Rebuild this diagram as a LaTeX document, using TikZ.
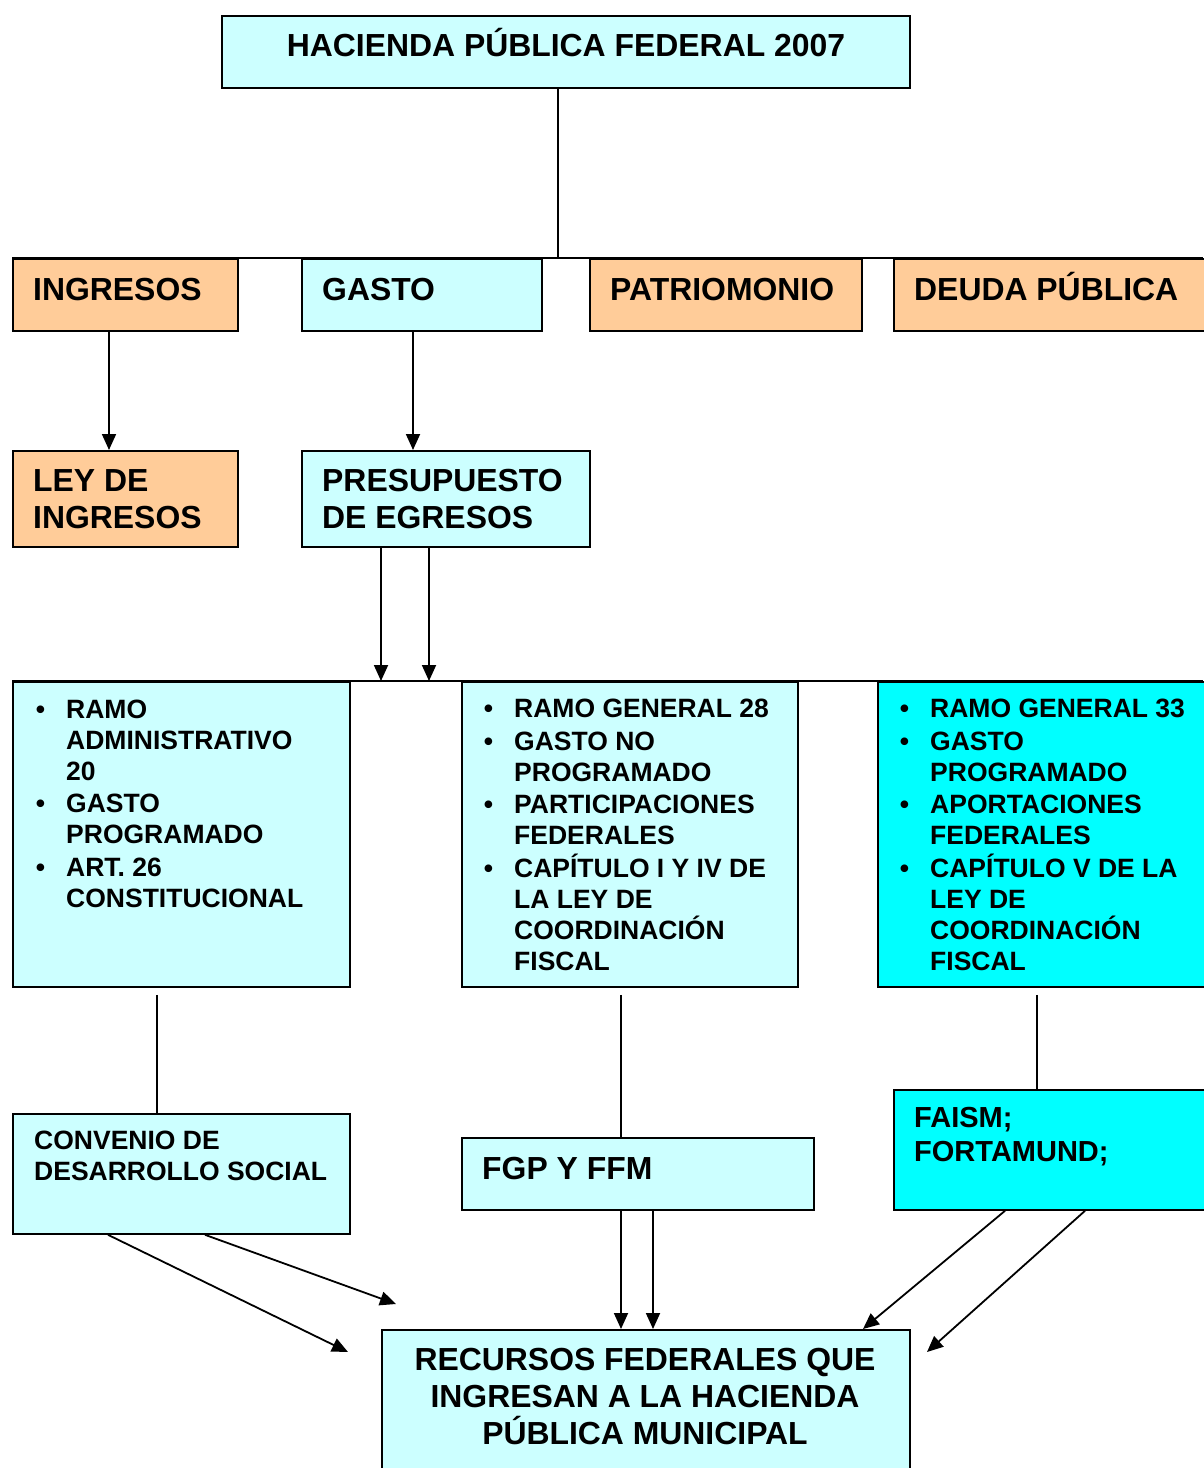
\documentclass[tikz,border=0pt]{standalone}
\usepackage{fontspec}
\setmainfont{Liberation Sans}
\usepackage{tikz}
\usetikzlibrary{arrows.meta}
\definecolor{peach}{HTML}{FFCC99}
\definecolor{lightcyan}{HTML}{CCFFFF}
\definecolor{aqua}{HTML}{00FFFF}
\tikzstyle{box} = [rectangle, draw=black, line width=1.8pt, anchor=north west, inner sep=0pt, fill=lightcyan]
\tikzstyle{peachbox} = [box, fill=peach]
\tikzstyle{aquabox} = [box, fill=aqua]
\tikzstyle{bigtxt} = [font=\fontsize{31.9}{37}\selectfont\bfseries, inner sep=0pt, align=left, anchor=base west]
\tikzstyle{smalltxt} = [font=\fontsize{26.5}{31}\selectfont\bfseries, inner sep=0pt, align=left, anchor=base west]
\tikzstyle{midtxt} = [font=\fontsize{29}{34}\selectfont\bfseries, inner sep=0pt, align=left, anchor=base west]
\tikzstyle{link} = [line width=1.8pt]
\tikzstyle{arrow} = [line width=1.8pt,->,>={Triangle[length=16pt,width=14pt]}]
\newcommand{\bul}{\llap{\textbullet\hspace{21pt}}}

\begin{document}
\begin{tikzpicture}[x=1pt,y=-1pt]
\useasboundingbox (0,0) rectangle (1203,1468);
\coordinate (topbarL) at (12,258);
\coordinate (topbarR) at (1203,258);
\coordinate (midbarL) at (12,681);
\coordinate (midbarR) at (1203,681);
\coordinate (convA) at (348,1352);
\coordinate (convB) at (396,1304);
\coordinate (faismB) at (927,1352);

\draw [link] (topbarL) -- (topbarR);
\draw [link] (midbarL) -- (midbarR);

\node (hacienda) [box, minimum width=688pt, minimum height=72pt] at (221,15) {};
\node (ingresos) [peachbox, minimum width=225pt, minimum height=72pt] at (12,258) {};
\node (gasto) [box, minimum width=240pt, minimum height=72pt] at (301,258) {};
\node (patrimonio) [peachbox, minimum width=272pt, minimum height=72pt] at (589,258) {};
\node (deuda) [peachbox, minimum width=315pt, minimum height=72pt] at (893,258) {};
\node (leying) [peachbox, minimum width=225pt, minimum height=96pt] at (12,450) {};
\node (presup) [box, minimum width=288pt, minimum height=96pt] at (301,450) {};
\node (ramo20) [box, minimum width=337pt, minimum height=305pt] at (12,681) {};
\node (ramo28) [box, minimum width=336pt, minimum height=305pt] at (461,681) {};
\node (ramo33) [aquabox, minimum width=330pt, minimum height=305pt] at (877,681) {};
\node (convenio) [box, minimum width=337pt, minimum height=120pt] at (12,1113) {};
\node (fgp) [box, minimum width=352pt, minimum height=72pt] at (461,1137) {};
\node (faism) [aquabox, minimum width=315pt, minimum height=120pt] at (893,1089) {};
\node (recursos) [box, minimum width=528pt, minimum height=145pt] at (381,1329) {};

% texts: multi-line nodes sit on the baseline of their last line
\node (haciendatxt) [bigtxt, anchor=base] at (566,56) {HACIENDA PÚBLICA FEDERAL 2007};
\node (ingresostxt) [bigtxt] at (33,300) {INGRESOS};
\node (gastotxt) [bigtxt] at (322,300) {GASTO};
\node (patrimoniotxt) [bigtxt] at (610,300) {PATRIOMONIO};
\node (deudatxt) [bigtxt] at (914,300) {DEUDA PÚBLICA};
\node (leyingtxt) [bigtxt] at (33,528) {LEY DE\\INGRESOS};
\node (presuptxt) [bigtxt] at (322,528) {PRESUPUESTO\\DE EGRESOS};
\node (ramo20txt) [smalltxt] at (66,907) {\bul RAMO\\ADMINISTRATIVO\\20\\[1.5pt]
  \bul GASTO\\PROGRAMADO\\[1.5pt]
  \bul ART. 26\\CONSTITUCIONAL};
\node (ramo28txt) [smalltxt] at (514,970) {\bul RAMO GENERAL 28\\[1.5pt]
  \bul GASTO NO\\PROGRAMADO\\[1.5pt]
  \bul PARTICIPACIONES\\FEDERALES\\[1.5pt]
  \bul CAPÍTULO I Y IV DE\\LA LEY DE\\COORDINACIÓN\\FISCAL};
\node (ramo33txt) [smalltxt] at (930,970) {\bul RAMO GENERAL 33\\[1.5pt]
  \bul GASTO\\PROGRAMADO\\[1.5pt]
  \bul APORTACIONES\\FEDERALES\\[1.5pt]
  \bul CAPÍTULO V DE LA\\LEY DE\\COORDINACIÓN\\FISCAL};
\node (conveniotxt) [smalltxt] at (34,1180) {CONVENIO DE\\DESARROLLO SOCIAL};
\node (fgptxt) [bigtxt] at (482,1179) {FGP Y FFM};
\node (faismtxt) [midtxt] at (914,1161) {FAISM;\\FORTAMUND;};
\node (recursostxt) [bigtxt, align=center, anchor=base] at (645,1444) {RECURSOS FEDERALES QUE\\INGRESAN A LA HACIENDA\\PÚBLICA MUNICIPAL};

\draw [link] ([xshift=-8pt]hacienda.south) -- ([xshift=-8pt]hacienda.south |- topbarL);
\draw [arrow] ([xshift=97pt]ingresos.south west) -- ([xshift=97pt]leying.north west);
\draw [arrow] ([xshift=112pt]gasto.south west) -- ([xshift=112pt]presup.north west);
\draw [arrow] ([xshift=80pt]presup.south west) -- ([xshift=80pt]presup.south west |- midbarL);
\draw [arrow] ([xshift=128pt]presup.south west) -- ([xshift=128pt]presup.south west |- midbarL);
\draw [link, shorten <=7pt] ([xshift=145pt]ramo20.south west) -- ([xshift=145pt]convenio.north west);
\draw [link, shorten <=7pt] ([xshift=160pt]ramo28.south west) -- ([xshift=160pt]fgp.north west);
\draw [link, shorten <=7pt] ([xshift=160pt]ramo33.south west) -- ([xshift=144pt]faism.north west);
\draw [arrow] ([xshift=96pt]convenio.south west) -- (convA);
\draw [arrow] ([xshift=193pt]convenio.south west) -- (convB);
\draw [arrow] ([xshift=160pt]fgp.south west) -- ([xshift=240pt]recursos.north west);
\draw [arrow] ([xshift=192pt]fgp.south west) -- ([xshift=272pt]recursos.north west);
\draw [arrow] ([xshift=112pt]faism.south west) -- ([xshift=482pt]recursos.north west);
\draw [arrow] ([xshift=192pt]faism.south west) -- (faismB);
\end{tikzpicture}
\end{document}
